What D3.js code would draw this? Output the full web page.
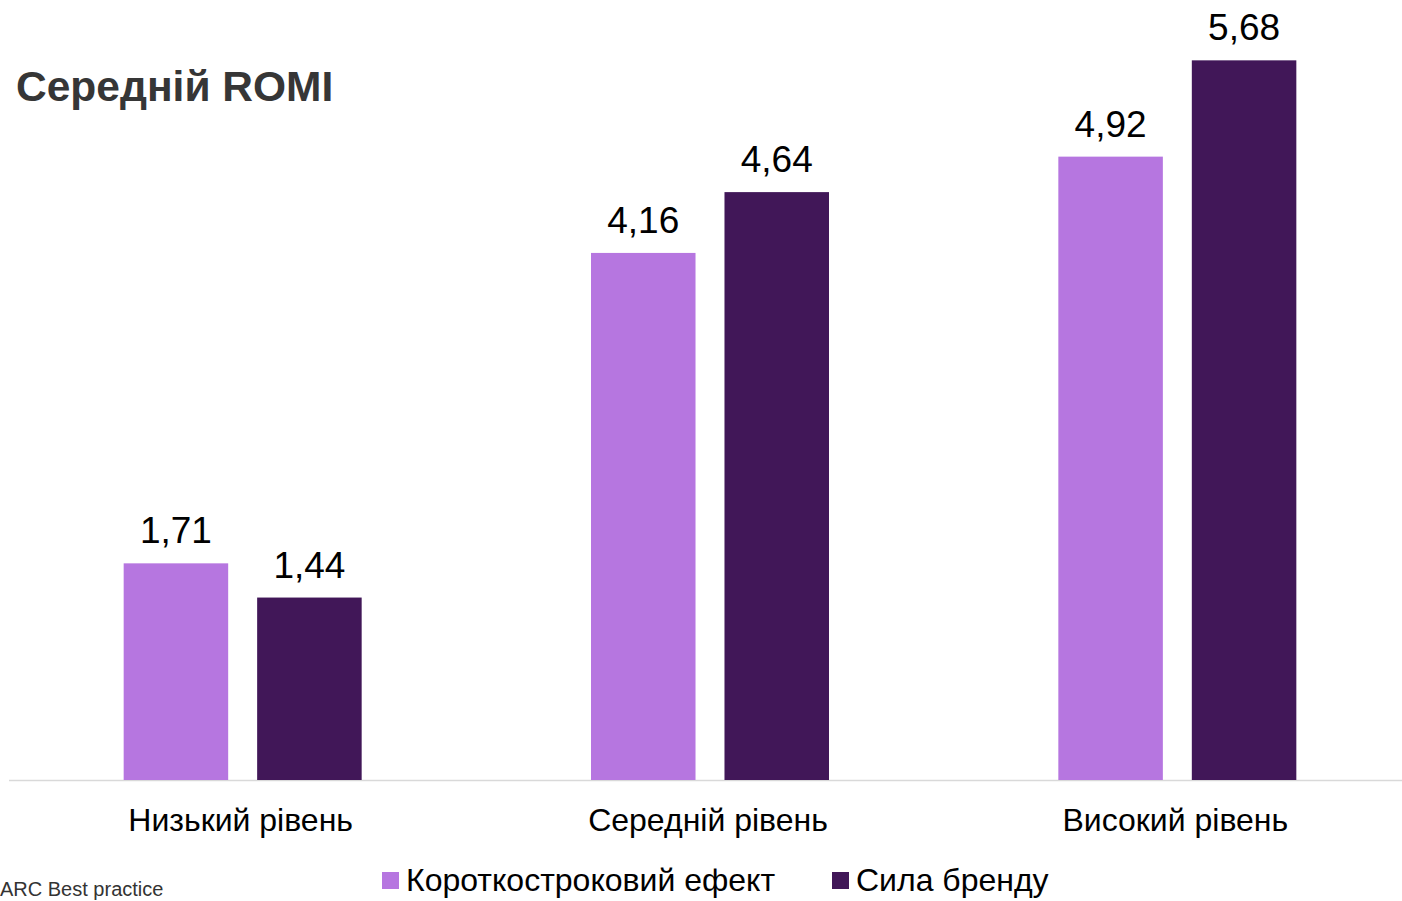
<!DOCTYPE html>
<html><head><meta charset="utf-8">
<script src="https://cdn.jsdelivr.net/npm/d3@7/dist/d3.min.js"></script>
<style>body{margin:0;background:#fff;} svg{display:block;}</style>
</head><body>
<svg id="chart" width="1402" height="901"></svg>
<script>
const categories = ["Низький рівень", "Середній рівень", "Високий рівень"];
const seriesNames = ["Короткостроковий ефект", "Сила бренду"];
const shortTerm = [1.71, 4.16, 4.92];
const brand = [1.44, 4.64, 5.68];
const colors = ["#B676E0", "#411758"];
const title = "Середній ROMI";
const source = "ARC Best practice";

const svg = d3.select("#chart");
const font = "'Liberation Sans', Arial, sans-serif";
const baseY = 780;

const x = d3.scaleBand().domain(categories).range([9, 1411]).paddingInner(0).paddingOuter(0);
const x1 = d3.scaleBand().domain(seriesNames).range([0, 238]).paddingInner(0.217);
const y = d3.scaleLinear().domain([0, 6]).range([baseY, baseY - 6 * 126.7]);

const data = categories.map((c, i) => ({cat: c, vals: [shortTerm[i], brand[i]]}));

svg.append("line").attr("x1", 9).attr("x2", 1402).attr("y1", baseY + 0.5).attr("y2", baseY + 0.5)
  .attr("stroke", "#d9d9d9").attr("stroke-width", 1.5);

const g = svg.selectAll("g.grp").data(data).join("g").attr("class", "grp")
  .attr("transform", d => `translate(${x(d.cat) + x.bandwidth() / 2 - 119},0)`);

g.selectAll("rect").data(d => d.vals.map((v, j) => ({v, s: seriesNames[j], j}))).join("rect")
  .attr("x", d => x1(d.s)).attr("width", x1.bandwidth())
  .attr("y", d => y(d.v)).attr("height", d => baseY - y(d.v))
  .attr("fill", d => colors[d.j]);

g.selectAll("text.val").data(d => d.vals.map((v, j) => ({v, s: seriesNames[j], j}))).join("text")
  .attr("class", "val")
  .attr("x", d => x1(d.s) + x1.bandwidth() / 2).attr("y", d => y(d.v) - 20)
  .attr("text-anchor", "middle").attr("font-family", font).attr("font-size", 37).attr("fill", "#000")
  .text(d => d.v.toFixed(2).replace(".", ","));

const xAxis = d3.axisBottom(x).tickSize(0).tickPadding(0);
const ax = svg.append("g").attr("transform", `translate(-2,${baseY})`).call(xAxis);
ax.select(".domain").remove();
ax.selectAll("text").attr("font-family", font).attr("font-size", 32).attr("fill", "#000")
  .attr("dy", null).attr("y", 51);

svg.append("text").attr("x", 16).attr("y", 101).attr("font-family", font).attr("font-weight", "bold")
  .attr("font-size", 42.5).attr("fill", "#363636").text(title);

const legX = [382, 832];
const leg = svg.selectAll("g.leg").data(seriesNames).join("g").attr("class", "leg")
  .attr("transform", (d, i) => `translate(${legX[i]},872)`);
leg.append("rect").attr("width", 17).attr("height", 17).attr("fill", (d, i) => colors[i]);
leg.append("text").attr("x", 24).attr("y", 19).attr("font-family", font).attr("font-size", 32)
  .attr("fill", "#000").text(d => d);

svg.append("text").attr("x", 0).attr("y", 896).attr("font-family", font).attr("font-size", 20)
  .attr("fill", "#333").text(source);
</script>
</body></html>
